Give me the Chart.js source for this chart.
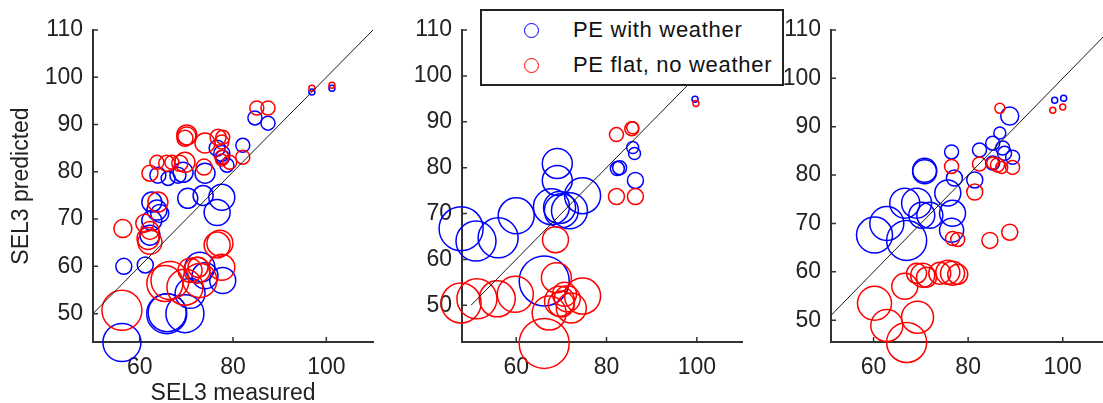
<!DOCTYPE html>
<html>
<head>
<meta charset="utf-8">
<script src="https://cdn.jsdelivr.net/npm/chart.js@4/dist/chart.umd.min.js"></script>
<style>
  body { margin: 0; width: 1103px; height: 403px; overflow: hidden; background: #fff; position: relative; }
  canvas { position: absolute; top: 0; }
  #legend {
    position: absolute; left: 480px; top: 9px; width: 304px; height: 77px;
    box-sizing: border-box; border: 2px solid #222; background: #fff; z-index: 5;
    font: 22px "Liberation Sans", Arial, sans-serif; color: #111; letter-spacing: 0.7px;
  }
  #legend .row { position: absolute; left: 0; height: 30px; line-height: 30px; }
  #legend .mk { position: absolute; left: 42px; top: 8px; width: 13px; height: 13px; border-radius: 50%; border: 1.5px solid; }
  #legend .txt { position: absolute; left: 91px; white-space: nowrap; }
</style>
</head>
<body>
<canvas id="p1" width="380" height="403" style="left:0"></canvas>
<canvas id="p2" width="380" height="403" style="left:380px"></canvas>
<canvas id="p3" width="360" height="403" style="left:760px"></canvas>
<div id="legend"></div>

<script>
// series names
const seriesNames = ['PE with weather', 'PE flat, no weather'];
const seriesColors = ['#0000ff', '#ff0000'];

// tick labels
const xTicks = [60, 80, 100];
const yTicks = [50, 60, 70, 80, 90, 100, 110];
const diagonal = [50, 110];

// [measured, predicted, bubble size]
const p1Weather = [
  [56.2, 43.9, 19], [56.6, 60.0, 8], [61.2, 60.3, 8], [62.6, 73.6, 10], [63.7, 71.9, 10],
  [64.3, 71.2, 9], [62.6, 69.7, 10], [62.2, 66.6, 10], [63.9, 79.3, 8], [66.1, 78.6, 7],
  [68.2, 79.3, 8], [69.3, 79.9, 10], [74.0, 79.7, 10], [70.3, 74.4, 10], [73.6, 75.0, 10],
  [77.6, 74.6, 13], [76.6, 71.4, 13], [76.6, 85.0, 8], [77.6, 83.9, 8], [77.8, 83.1, 7],
  [78.7, 81.4, 7], [82.1, 85.6, 7], [84.7, 91.4, 7], [87.5, 90.3, 7], [96.9, 96.9, 3],
  [101.2, 97.7, 3], [65.8, 50.0, 20], [65.9, 50.2, 19], [69.7, 50.0, 19], [70.8, 54.3, 15],
  [72.9, 59.8, 15], [74.0, 58.0, 13], [77.8, 57.0, 13]
];
const p1Flat = [
  [56.2, 50.7, 20], [56.4, 68.0, 9], [62.2, 67.6, 9], [61.8, 65.9, 11], [62.2, 65.1, 12],
  [65.4, 56.4, 18], [66.5, 57.0, 19], [69.7, 55.6, 18], [70.8, 59.2, 12], [72.3, 59.2, 13],
  [72.9, 57.0, 17], [72.5, 59.8, 10], [77.2, 64.9, 13], [76.6, 64.5, 13], [77.6, 59.8, 13],
  [61.1, 69.1, 9], [63.9, 73.6, 10], [62.2, 79.7, 8], [63.7, 82.0, 7], [65.8, 81.8, 8],
  [66.9, 82.0, 7], [68.6, 81.8, 8], [69.7, 82.0, 10], [70.1, 87.8, 10], [70.1, 87.6, 9],
  [69.7, 87.1, 8], [74.0, 86.1, 10], [76.8, 87.3, 8], [77.8, 87.3, 7], [77.6, 86.3, 7],
  [77.6, 83.1, 7], [77.6, 82.5, 6], [79.3, 82.0, 7], [82.1, 83.1, 7], [85.1, 93.5, 7],
  [87.5, 93.5, 7], [73.8, 81.0, 8], [96.9, 97.7, 3], [101.2, 98.3, 3]
];
const p2Weather = [
  [47.8, 66.7, 22], [51.1, 64.0, 20], [56.0, 64.7, 20], [60.0, 69.5, 18], [66.2, 55.3, 25],
  [67.8, 71.5, 18], [69.1, 80.9, 15], [69.1, 77.2, 15], [69.6, 71.3, 16], [70.0, 70.6, 17],
  [71.8, 70.6, 18], [74.7, 73.9, 18], [82.4, 79.8, 7], [82.9, 80.0, 7], [85.8, 84.4, 6],
  [86.2, 83.1, 6], [86.4, 77.2, 8], [99.6, 94.9, 3]
];
const p2Flat = [
  [47.8, 50.5, 20], [51.3, 51.4, 20], [55.8, 51.4, 18], [59.8, 52.4, 18], [66.2, 41.7, 25],
  [67.3, 48.3, 17], [68.9, 56.0, 15], [68.7, 64.3, 13], [69.6, 50.9, 15], [70.0, 50.3, 13],
  [71.3, 51.4, 13], [72.2, 49.4, 15], [74.7, 52.0, 18], [70.7, 52.4, 12], [82.2, 87.2, 7],
  [85.6, 88.5, 7], [85.8, 88.7, 6], [82.2, 73.7, 8], [86.4, 73.7, 8], [99.8, 94.0, 3]
];
const p3Weather = [
  [60.2, 67.6, 18], [62.8, 70.0, 17], [67.0, 66.5, 20], [66.6, 74.2, 15], [69.1, 74.2, 15],
  [70.2, 71.7, 13], [71.9, 71.7, 13], [70.8, 81.0, 12], [70.8, 80.7, 12], [75.7, 76.3, 13],
  [76.7, 72.1, 13], [76.5, 68.6, 12], [76.5, 84.8, 7], [77.1, 79.4, 8], [81.4, 79.0, 8],
  [82.4, 85.2, 7], [85.2, 86.6, 7], [86.7, 88.7, 6], [87.3, 85.6, 7], [88.8, 92.2, 9],
  [89.4, 83.7, 7], [85.2, 82.5, 7], [87.7, 84.5, 7], [98.3, 95.5, 3], [100.2, 95.9, 3]
];
const p3Flat = [
  [86.7, 93.8, 5], [76.5, 81.8, 7], [82.4, 82.3, 7], [85.2, 82.5, 6], [86.2, 82.1, 7],
  [87.1, 81.6, 6], [89.4, 81.6, 7], [81.4, 76.5, 8], [76.7, 66.9, 7], [77.8, 66.7, 7],
  [84.6, 66.5, 8], [88.8, 68.2, 8], [69.1, 59.7, 10], [70.4, 59.3, 12], [71.2, 58.9, 10],
  [74.0, 59.7, 11], [75.7, 59.9, 12], [76.7, 59.7, 12], [77.8, 59.5, 10], [66.6, 57.0, 13],
  [60.2, 53.5, 17], [62.8, 48.9, 16], [69.3, 50.6, 16], [67.0, 45.4, 20], [97.9, 93.4, 3],
  [100.0, 94.1, 3]
];

const fontFamily = '"Liberation Sans", Arial, sans-serif';
const tickFont = { family: fontFamily, size: 23 };
const textColor = '#222';

// matlab style ticks pointing into the axes
const inwardTicks = {
  id: 'inwardTicks',
  afterDraw(chart) {
    const { ctx, chartArea, scales: { x, y } } = chart;
    ctx.save();
    ctx.strokeStyle = '#333';
    ctx.lineWidth = 1.5;
    ctx.beginPath();
    x.ticks.forEach(t => {
      const px = x.getPixelForValue(t.value);
      ctx.moveTo(px, chartArea.bottom);
      ctx.lineTo(px, chartArea.bottom - 5);
    });
    y.ticks.forEach(t => {
      const py = y.getPixelForValue(t.value);
      ctx.moveTo(chartArea.left, py);
      ctx.lineTo(chartArea.left + 5, py);
    });
    ctx.stroke();
    ctx.restore();
  }
};

function toPoints(rows) {
  return rows.map(([x, y, r]) => ({ x, y, r }));
}

function makePanel(id, weather, flat, cfg) {
  return new Chart(document.getElementById(id), {
    type: 'bubble',
    data: {
      datasets: [
        {
          type: 'line',
          data: diagonal.map(v => ({ x: v, y: v })),
          borderColor: '#1a1a1a',
          borderWidth: 1,
          pointRadius: 0,
          order: 0
        },
        {
          label: seriesNames[0],
          data: toPoints(weather),
          borderColor: seriesColors[0],
          backgroundColor: 'rgba(0,0,0,0)',
          borderWidth: 1.5,
          clip: false,
          order: 2
        },
        {
          label: seriesNames[1],
          data: toPoints(flat),
          borderColor: seriesColors[1],
          backgroundColor: 'rgba(0,0,0,0)',
          borderWidth: 1.5,
          clip: false,
          order: 1
        }
      ]
    },
    options: {
      responsive: false,
      animation: false,
      events: [],
      layout: { autoPadding: false, padding: { left: 0, top: 30, right: cfg.padRight, bottom: 0 } },
      plugins: { legend: { display: false }, tooltip: { enabled: false } },
      scales: {
        x: {
          type: 'linear',
          min: cfg.xMin,
          max: 110,
          afterBuildTicks: s => { s.ticks = xTicks.map(value => ({ value })); },
          afterFit: s => { s.height = 61; },
          grid: { display: false, drawTicks: false },
          border: { color: '#333', width: 2 },
          ticks: { font: tickFont, color: textColor, padding: 12 },
          title: {
            display: !!cfg.xTitle,
            text: cfg.xTitle || '',
            font: { family: fontFamily, size: 23, lineHeight: 0.8 },
            color: textColor,
            padding: { top: 0, bottom: 0 }
          }
        },
        y: {
          type: 'linear',
          min: cfg.yMin,
          max: 110,
          afterBuildTicks: s => { s.ticks = yTicks.map(value => ({ value })); },
          afterFit: s => { s.width = cfg.left; },
          grid: { display: false, drawTicks: false },
          border: { color: '#333', width: 2 },
          ticks: { font: tickFont, color: textColor, padding: 10 },
          title: {
            display: !!cfg.yTitle,
            text: cfg.yTitle || '',
            font: { family: fontFamily, size: 23 },
            color: textColor,
            padding: { top: 8, bottom: 0 }
          }
        }
      }
    },
    plugins: [inwardTicks]
  });
}

makePanel('p1', p1Weather, p1Flat, {
  xMin: 50, yMin: 44, left: 93, padRight: 7,
  xTitle: 'SEL3 measured', yTitle: 'SEL3 predicted'
});
makePanel('p2', p2Weather, p2Flat, { xMin: 48, yMin: 42, left: 82, padRight: 18 });
makePanel('p3', p3Weather, p3Flat, { xMin: 51, yMin: 45.5, left: 71, padRight: 10 });

// legend box over the middle panel
const legend = document.getElementById('legend');
seriesNames.forEach((name, i) => {
  const row = document.createElement('div');
  row.className = 'row';
  row.style.top = (4 + i * 35) + 'px';
  row.innerHTML = `<span class="mk" style="border-color:${seriesColors[i]}"></span><span class="txt">${name}</span>`;
  legend.appendChild(row);
});
</script>
</body>
</html>
